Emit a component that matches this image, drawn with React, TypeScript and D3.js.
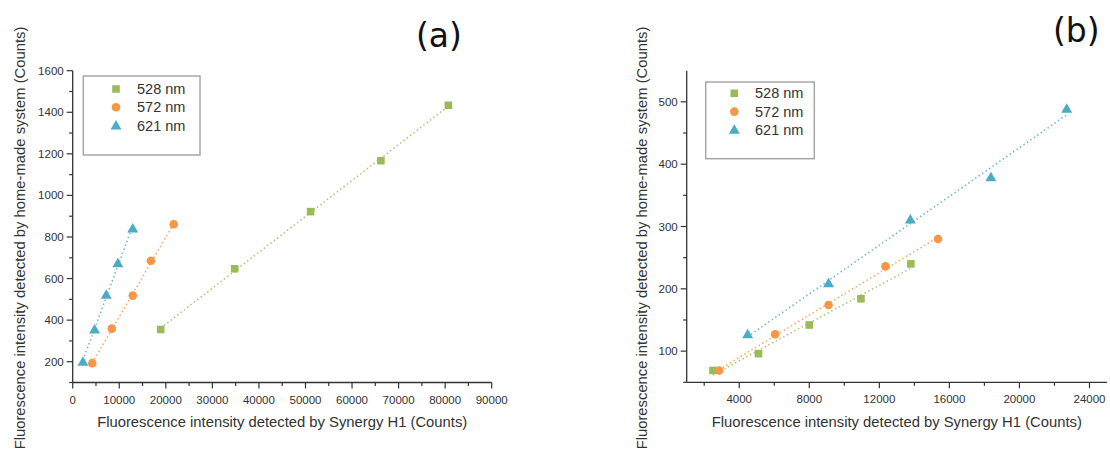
import * as d3 from "d3";

const seriesNames = ["528 nm", "572 nm", "621 nm"];
const colors = ["#9BBB59", "#F79646", "#4BACC6"];
const shapes = ["square", "circle", "triangle"];

// panel (a)
const a528x = [18900, 34800, 51100, 66200, 80700];
const a528y = [355, 647, 922, 1167, 1434];
const a572x = [4200, 8400, 12900, 16800, 21700];
const a572y = [193, 359, 518, 686, 861];
const a621x = [2200, 4700, 7200, 9700, 12900];
const a621y = [200, 355, 522, 673, 841];

// panel (b)
const b528x = [2500, 5100, 8000, 10950, 13800];
const b528y = [69, 96, 142, 184, 240];
const b572x = [2850, 6050, 9100, 12350, 15350];
const b572y = [69, 127, 174, 236, 280];
const b621x = [4480, 9100, 13770, 18370, 22700];
const b621y = [127, 209, 311, 379, 489];

const aXTicks = [0, 10000, 20000, 30000, 40000, 50000, 60000, 70000, 80000, 90000];
const aYTicks = [200, 400, 600, 800, 1000, 1200, 1400, 1600];
const bXTicks = [4000, 8000, 12000, 16000, 20000, 24000];
const bYTicks = [100, 200, 300, 400, 500];

const xLabel = "Fluorescence intensity detected by Synergy H1 (Counts)";
const yLabel = "Fluorescence intensity detected by home-made system (Counts)";

const FONT = "'Liberation Sans', Arial, sans-serif";
const AXIS = "#333";

function fit(xs: number[], ys: number[]) {
  const mx = d3.mean(xs)!;
  const my = d3.mean(ys)!;
  let num = 0, den = 0;
  xs.forEach((x, i) => { num += (x - mx) * (ys[i] - my); den += (x - mx) * (x - mx); });
  const k = num / den;
  const b = my - k * mx;
  const [x0, x1] = d3.extent(xs) as [number, number];
  return [[x0, k * x0 + b], [x1, k * x1 + b]];
}

function Marker({ shape, x, y, color }: { shape: string; x: number; y: number; color: string }) {
  if (shape === "square") return <rect x={x - 3.8} y={y - 3.8} width={7.6} height={7.6} fill={color} />;
  if (shape === "circle") return <circle cx={x} cy={y} r={4.3} fill={color} />;
  const sym = d3.symbol(d3.symbolTriangle, 52)();
  return <path d={sym!} transform={`translate(${x},${y + 0.8})`} fill={color} />;
}

type PanelProps = {
  xs: number[][];
  ys: number[][];
  xDomain: [number, number];
  xRange: [number, number];
  yDomain: [number, number];
  yRange: [number, number];
  xTicks: number[];
  xMinor: number[];
  yTicks: number[];
  yMinor: number[];
  yLabelX: number;
  legend: { x: number; y: number; w: number; h: number; mx: number; tx: number; row0: number; dy: number };
  tag: string;
  tagX: number;
  tagY: number;
};

function Panel(p: PanelProps) {
  const x = d3.scaleLinear().domain(p.xDomain).range(p.xRange);
  const y = d3.scaleLinear().domain(p.yDomain).range(p.yRange);
  const base = p.yRange[0];
  const left = p.xRange[0];
  const line = d3.line<number[]>().x(d => x(d[0])).y(d => y(d[1]));
  return (
    <g>
      {p.xs.map((xs, i) => (
        <path key={"f" + i} d={line(fit(xs, p.ys[i]))!} fill="none" stroke={colors[i]}
          strokeWidth={1.6} strokeDasharray="1.4 2.8" opacity={0.85} />
      ))}
      {p.xs.map((xs, i) => xs.map((v, j) => (
        <Marker key={`m${i}-${j}`} shape={shapes[i]} x={x(v)} y={y(p.ys[i][j])} color={colors[i]} />
      )))}
      <line x1={left} x2={p.xRange[1]} y1={base} y2={base} stroke={AXIS} strokeWidth={1.3} />
      <line x1={left} x2={left} y1={base} y2={p.yRange[1]} stroke={AXIS} strokeWidth={1.3} />
      {p.xTicks.map(t => (
        <g key={"xt" + t}>
          <line x1={x(t)} x2={x(t)} y1={base} y2={base + 6} stroke={AXIS} strokeWidth={1.2} />
          <text x={x(t)} y={base + 21} textAnchor="middle" fontSize={11.5} fill={AXIS} fontFamily={FONT}>{t}</text>
        </g>
      ))}
      {p.xMinor.map(t => (
        <line key={"xm" + t} x1={x(t)} x2={x(t)} y1={base} y2={base + 3.5} stroke={AXIS} strokeWidth={1.2} />
      ))}
      {p.yTicks.map(t => (
        <g key={"yt" + t}>
          <line x1={left - 6} x2={left} y1={y(t)} y2={y(t)} stroke={AXIS} strokeWidth={1.2} />
          <text x={left - 9} y={y(t) + 4} textAnchor="end" fontSize={11.5} fill={AXIS} fontFamily={FONT}>{t}</text>
        </g>
      ))}
      {p.yMinor.map(t => (
        <line key={"ym" + t} x1={left - 3.5} x2={left} y1={y(t)} y2={y(t)} stroke={AXIS} strokeWidth={1.2} />
      ))}
      <text x={(p.xRange[0] + p.xRange[1]) / 2} y={427} textAnchor="middle"
        fontSize={14.8} fill={AXIS} fontFamily={FONT}>{xLabel}</text>
      <text transform={`translate(${p.yLabelX},${238}) rotate(-90)`} textAnchor="middle"
        fontSize={14.8} fill={AXIS} fontFamily={FONT}>{yLabel}</text>
      <rect x={p.legend.x} y={p.legend.y} width={p.legend.w} height={p.legend.h} fill="#fff"
        stroke="#a8a8a8" strokeWidth={1.5} />
      {seriesNames.map((s, i) => (
        <g key={s}>
          <Marker shape={shapes[i]} x={p.legend.mx} y={p.legend.row0 + i * p.legend.dy} color={colors[i]} />
          <text x={p.legend.tx} y={p.legend.row0 + i * p.legend.dy + 5} fontSize={14.5} fill={AXIS} fontFamily={FONT}>{s}</text>
        </g>
      ))}
      <text x={p.tagX} y={p.tagY} fontSize={33} fill="#111" fontFamily="'DejaVu Sans', sans-serif">{p.tag}</text>
    </g>
  );
}

export default function App() {
  const aXMinor = d3.range(5000, 90000, 10000);
  const aYMinor = d3.range(100, 1600, 200);
  const bXMinor = d3.range(2000, 25000, 4000);
  const bYMinor = d3.range(50, 550, 100);
  return (
    <svg width={1110} height={450} style={{ position: "absolute", left: 0, top: 0, background: "#fff" }}>
      <Panel
        xs={[a528x, a572x, a621x]} ys={[a528y, a572y, a621y]}
        xDomain={[0, 90000]} xRange={[72.7, 491.7]}
        yDomain={[100, 1600]} yRange={[382.5, 70.7]}
        xTicks={aXTicks} xMinor={aXMinor} yTicks={aYTicks} yMinor={aYMinor}
        yLabelX={25}
        legend={{ x: 83.3, y: 76, w: 116.7, h: 79, mx: 116, tx: 137, row0: 89, dy: 18.3 }}
        tag="(a)" tagX={416} tagY={47}
      />
      <Panel
        xs={[b528x, b572x, b621x]} ys={[b528y, b572y, b621y]}
        xDomain={[1000, 25000]} xRange={[686.7, 1107]}
        yDomain={[50, 550]} yRange={[382.3, 70.7]}
        xTicks={bXTicks} xMinor={bXMinor} yTicks={bYTicks} yMinor={bYMinor}
        yLabelX={647}
        legend={{ x: 705.7, y: 82, w: 108.6, h: 76.7, mx: 734.3, tx: 755, row0: 93.3, dy: 18.3 }}
        tag="(b)" tagX={1053} tagY={42}
      />
    </svg>
  );
}
